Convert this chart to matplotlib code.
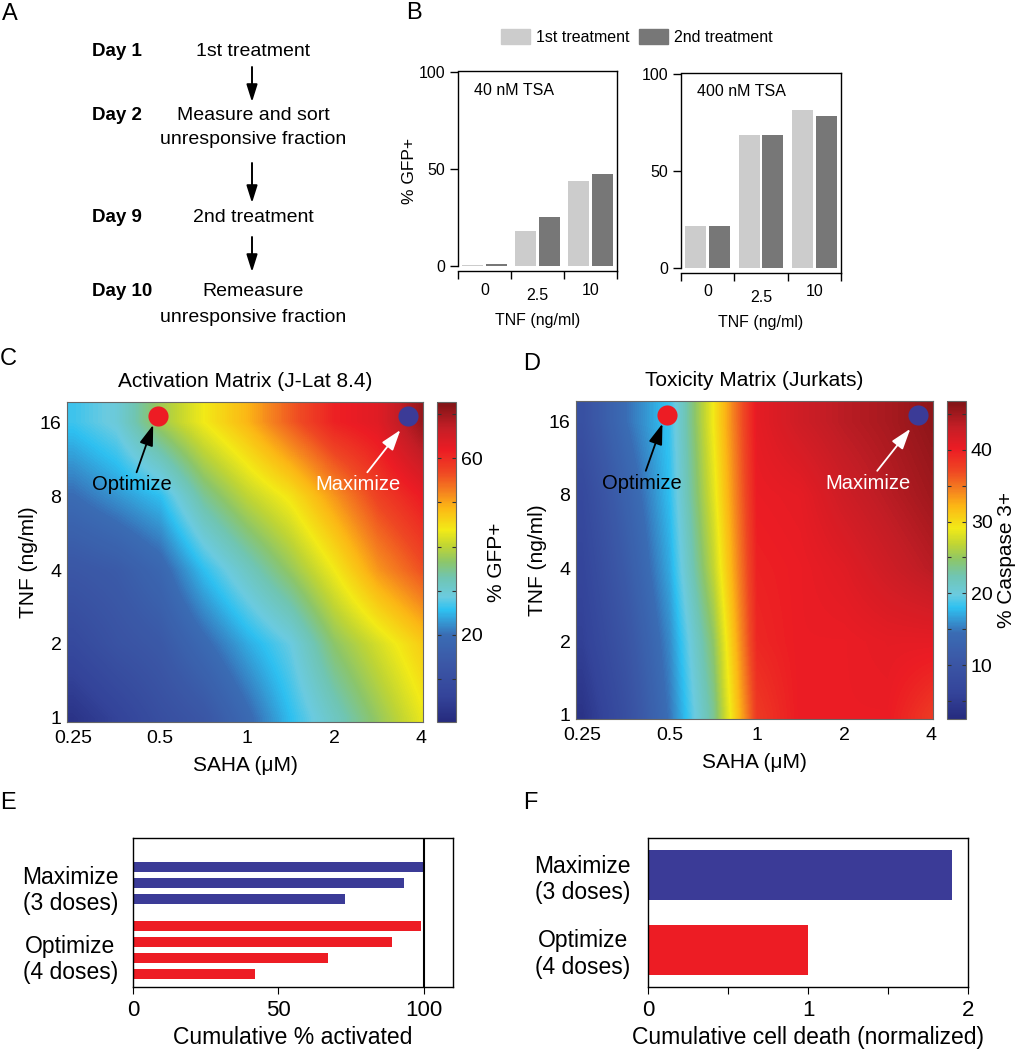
import numpy as np
import matplotlib
matplotlib.use('Agg')
import matplotlib.pyplot as plt
from matplotlib.colors import LinearSegmentedColormap
from matplotlib.patches import Patch
import matplotlib.transforms as mtransforms

plt.rcParams['font.family'] = ['Liberation Sans', 'DejaVu Sans']

# ---- data ----
# panel B: % GFP+ after 1st / 2nd treatment
tnf_doses = ['0', '2.5', '10']
gfp_40_first = [0.5, 18.0, 43.7]
gfp_40_second = [0.9, 25.2, 47.3]
gfp_400_first = [21.5, 68.3, 81.3]
gfp_400_second = [21.8, 68.3, 78.5]

# panels C/D: dose matrices (rows = TNF, cols = SAHA)
saha_grid = [0.25, 0.35, 0.5, 0.71, 1, 1.41, 2, 2.83, 4]
tnf_grid = [1, 2, 4, 8, 16]
activation = [
    [2.5, 6.1, 10.4, 13.3, 19.1, 25.6, 31.4, 37.2, 43.0],
    [8.3, 11.9, 14.1, 19.1, 24.2, 28.5, 36.5, 41.6, 46.6],
    [13.3, 14.8, 18.4, 25.6, 31.4, 37.2, 43.7, 51.0, 56.0],
    [19.8, 22.7, 25.6, 34.3, 40.1, 44.5, 51.0, 57.5, 61.8],
    [26.4, 29.3, 37.9, 43.7, 48.8, 55.3, 61.1, 63.3, 70.5],
]
toxicity = [
    [3.8, 8.7, 14.9, 23.3, 38.0, 40.2, 40.2, 40.2, 38.0],
    [5.6, 10.0, 15.8, 24.7, 39.3, 40.2, 40.2, 40.6, 40.6],
    [6.5, 11.4, 17.1, 26.9, 39.7, 40.2, 41.0, 42.4, 43.7],
    [7.4, 12.7, 18.0, 28.2, 40.2, 40.6, 42.4, 43.7, 45.0],
    [9.1, 14.5, 18.4, 29.1, 40.6, 42.4, 43.7, 44.6, 45.9],
]
saha_ticks = [0.25, 0.5, 1, 2, 4]
tnf_ticks = [1, 2, 4, 8, 16]
optimize_dose = (0.49, 17)   # (SAHA, TNF)
maximize_dose = (3.6, 17)

# panels E/F
strategies = ['Maximize\n(3 doses)', 'Optimize\n(4 doses)']
max_activated = [100, 93, 73]
opt_activated = [99, 89, 67, 42]
cell_death = [1.9, 1.0]

BLUE = '#3b3b97'
RED = '#ed1c24'
LIGHT = '#cccccc'
DARK = '#777777'

cmap = LinearSegmentedColormap.from_list('jetlike', [
    (0.00, '#262b7e'), (0.08, '#34449a'), (0.18, '#3b57a6'), (0.27, '#3a6cb4'),
    (0.31, '#3596d2'), (0.35, '#2ec1f1'), (0.39, '#6bcbe0'), (0.45, '#70c5b2'),
    (0.50, '#8cc66a'), (0.55, '#c0d534'), (0.60, '#f2ea17'), (0.67, '#fcb715'),
    (0.72, '#f5821f'), (0.78, '#ef4823'), (0.85, '#ec1c24'), (0.92, '#c41e26'),
    (1.00, '#7f1416')])

W, H = 1022, 1050
fig = plt.figure(figsize=(W / 100, H / 100), dpi=100)


def box(x0, y0, x1, y1):
    return [x0 / W, 1 - y1 / H, (x1 - x0) / W, (y1 - y0) / H]


# overlay for panel A and panel letters
ov = fig.add_axes([0, 0, 1, 1])
ov.set_xlim(0, W)
ov.set_ylim(H, 0)
ov.set_axis_off()

for lab, x, y in [('A', 2, 14), ('B', 406, 13), ('C', 0, 359), ('D', 523, 364),
                  ('E', 0, 803), ('F', 523, 803)]:
    ov.text(x, y, lab, fontsize=17, ha='left', va='center')

steps = [('Day 1', ['1st treatment'], 52),
         ('Day 2', ['Measure and sort', 'unresponsive fraction'], 115),
         ('Day 9', ['2nd treatment'], 218),
         ('Day 10', ['Remeasure', 'unresponsive fraction'], 292)]
for day, lines, y in steps:
    ov.text(92, y, day, fontsize=13.5, fontweight='bold', ha='left', va='center')
    for i, line in enumerate(lines):
        ov.text(253, y + i * 25, line, fontsize=14, ha='center', va='center')
for y0, y1 in [(67, 102), (163, 203), (237, 272)]:
    ov.annotate('', xy=(252, y1), xytext=(252, y0),
                arrowprops=dict(arrowstyle='-|>,head_length=0.7,head_width=0.22',
                                color='k', lw=1.4, mutation_scale=15,
                                shrinkA=0, shrinkB=0))

# ---- panel B ----
BFS = 11.5


def gfp_panel(ax, first, second, label, ylabel):
    x = np.arange(len(tnf_doses)) + 0.5
    ax.bar(x - 0.223, first, width=0.395, color=LIGHT)
    ax.bar(x + 0.223, second, width=0.395, color=DARK)
    ax.set_xlim(0, 3)
    ax.set_ylim(-2.6, 100.5)
    ax.set_yticks([0, 50, 100])
    ax.set_yticklabels(['0', '50', '100'], fontsize=BFS)
    ax.set_xticks([0, 1, 2, 3])
    ax.set_xticklabels([])
    ax.tick_params(axis='both', direction='out', length=6, width=1, pad=3)
    ax.spines['left'].set_bounds(0, 100)
    for s in ax.spines.values():
        s.set_linewidth(1)
    trans = mtransforms.blended_transform_factory(ax.transData, ax.transAxes)
    offs = [-0.095, -0.12, -0.095]
    for xi, lab, o in zip(x, tnf_doses, offs):
        ax.text(xi, o, lab, transform=trans, ha='center', va='center',
                fontsize=BFS)
    ax.text(0.5, -0.245, 'TNF (ng/ml)', transform=ax.transAxes, ha='center',
            va='center', fontsize=BFS)
    ax.text(0.1, 0.905, label, transform=ax.transAxes, ha='left', va='center',
            fontsize=BFS)
    if ylabel:
        ax.set_ylabel('% GFP+', fontsize=12.5, labelpad=1)


axb1 = fig.add_axes(box(458, 71, 617, 271))
gfp_panel(axb1, gfp_40_first, gfp_40_second, '40 nM TSA', True)
axb2 = fig.add_axes(box(681, 73, 841, 273))
gfp_panel(axb2, gfp_400_first, gfp_400_second, '400 nM TSA', False)

fig.legend(handles=[Patch(color=LIGHT, label='1st treatment'),
                    Patch(color=DARK, label='2nd treatment')],
           loc='center', bbox_to_anchor=(637 / W, 1 - 37 / H), ncol=2,
           frameon=False, prop={'size': BFS},
           handlelength=1.8, handleheight=1.1, handletextpad=0.4,
           columnspacing=0.6)


# ---- panels C, D ----
def matrix_panel(ax, cax, data, title, vlim, cticks, clabels, cbar_label):
    lx = np.log2(saha_grid)
    ly = np.log2(tnf_grid)
    dx = (lx[1] - lx[0]) / 2
    dy = (ly[1] - ly[0]) / 2
    im = ax.imshow(np.array(data), origin='lower', cmap=cmap,
                   interpolation='bilinear', aspect='auto',
                   extent=(lx[0] - dx, lx[-1] + dx, ly[0] - dy, ly[-1] + dy),
                   vmin=vlim[0], vmax=vlim[1])
    ax.set_xlim(-2.07, 2.02)
    ax.set_ylim(-0.06, 4.28)
    ax.set_xticks(np.log2(saha_ticks))
    ax.set_xticklabels([f'{v:g}' for v in saha_ticks])
    ax.set_yticks(np.log2(tnf_ticks))
    ax.set_yticklabels([str(v) for v in tnf_ticks])
    ax.tick_params(axis='x', length=0, labelsize=14, pad=6)
    ax.tick_params(axis='y', length=0, labelsize=14, pad=4)
    ax.set_xlabel('SAHA (\u03bcM)', fontsize=15, labelpad=6)
    ax.set_ylabel('TNF (ng/ml)', fontsize=15, labelpad=1)
    ax.set_title(title, fontsize=15, pad=11)
    for s in ax.spines.values():
        s.set_color('#666666')
        s.set_linewidth(0.8)

    ax.scatter(np.log2(optimize_dose[0]), np.log2(optimize_dose[1]), s=210,
               color=RED, zorder=3, linewidths=0)
    ax.scatter(np.log2(maximize_dose[0]), np.log2(maximize_dose[1]), s=210,
               color=BLUE, zorder=3, linewidths=0)
    ax.annotate('Optimize', xy=(-1.08, 3.97), xytext=(-1.32, 3.16),
                ha='center', va='center', fontsize=14.5, color='k',
                arrowprops=dict(arrowstyle='-|>,head_length=0.9,head_width=0.3',
                                color='k', lw=1.3, mutation_scale=14,
                                shrinkA=0, shrinkB=0))
    ax.annotate('Maximize', xy=(1.76, 3.9), xytext=(1.27, 3.16),
                ha='center', va='center', fontsize=14.5, color='white',
                arrowprops=dict(arrowstyle='-|>,head_length=0.9,head_width=0.3',
                                color='white', lw=1.3, mutation_scale=14,
                                shrinkA=0, shrinkB=0))

    cb = fig.colorbar(im, cax=cax)
    cb.set_ticks(cticks)
    cb.set_ticklabels(clabels)
    cax.tick_params(direction='in', left=True, right=True, length=3,
                    labelsize=14, width=0.8, colors='#333333', labelcolor='k')
    cb.outline.set_linewidth(0.8)
    cb.outline.set_edgecolor('#666666')
    cb.set_label(cbar_label, fontsize=15, labelpad=3)


axc = fig.add_axes(box(67, 402, 423, 722))
caxc = fig.add_axes(box(437, 402, 456, 722))
matrix_panel(axc, caxc, activation, 'Activation Matrix (J-Lat 8.4)', (0.3, 72.7),
             list(range(10, 71, 10)), ['', '20', '', '', '', '60', ''], '% GFP+')

axd = fig.add_axes(box(576, 401, 933, 719))
caxd = fig.add_axes(box(947, 401, 966, 719))
matrix_panel(axd, caxd, toxicity, 'Toxicity Matrix (Jurkats)', (2.5, 46.8),
             list(range(5, 46, 5)),
             ['', '10', '', '20', '', '30', '', '40', ''], '% Caspase 3+')

# ---- panel E ----
axe = fig.add_axes(box(133, 838, 453, 987))
max_pos = np.arange(len(max_activated))
opt_pos = 3.7 + np.arange(len(opt_activated))
axe.barh(max_pos, max_activated, height=0.63, color=BLUE)
axe.barh(opt_pos, opt_activated, height=0.63, color=RED)
axe.axvline(100, color='k', lw=1.5)
axe.set_xlim(0, 110)
axe.set_ylim(7.5, -1.83)
axe.set_xticks([0, 50, 100])
axe.set_yticks([max_pos.mean() + 0.2, opt_pos.mean() + 0.3])
axe.set_yticklabels(strategies, fontsize=16.5, ha='center', multialignment='center')
axe.tick_params(axis='y', length=0, pad=45)
axe.tick_params(axis='x', length=5, direction='out', labelsize=16, pad=4)
axe.set_xlabel('Cumulative % activated', fontsize=16.5, labelpad=4)
for s in axe.spines.values():
    s.set_linewidth(1)

# ---- panel F ----
axf = fig.add_axes(box(648, 838, 968, 987))
fpos = np.arange(len(cell_death))
axf.barh(fpos, cell_death, height=0.667, color=[BLUE, RED])
axf.set_xlim(0, 2)
axf.set_ylim(1.5, -0.5)
axf.set_xticks([0, 0.5, 1, 1.5, 2])
axf.set_xticklabels(['0', '', '1', '', '2'])
axf.set_yticks(fpos)
axf.set_yticklabels(strategies, fontsize=16.5, ha='center', multialignment='center')
axf.tick_params(axis='y', length=0, pad=47)
axf.tick_params(axis='x', length=5, direction='out', labelsize=16, pad=4)
axf.set_xlabel('Cumulative cell death (normalized)', fontsize=16.5, labelpad=4)
for s in axf.spines.values():
    s.set_linewidth(1)

fig.savefig('out.png', dpi=100)
